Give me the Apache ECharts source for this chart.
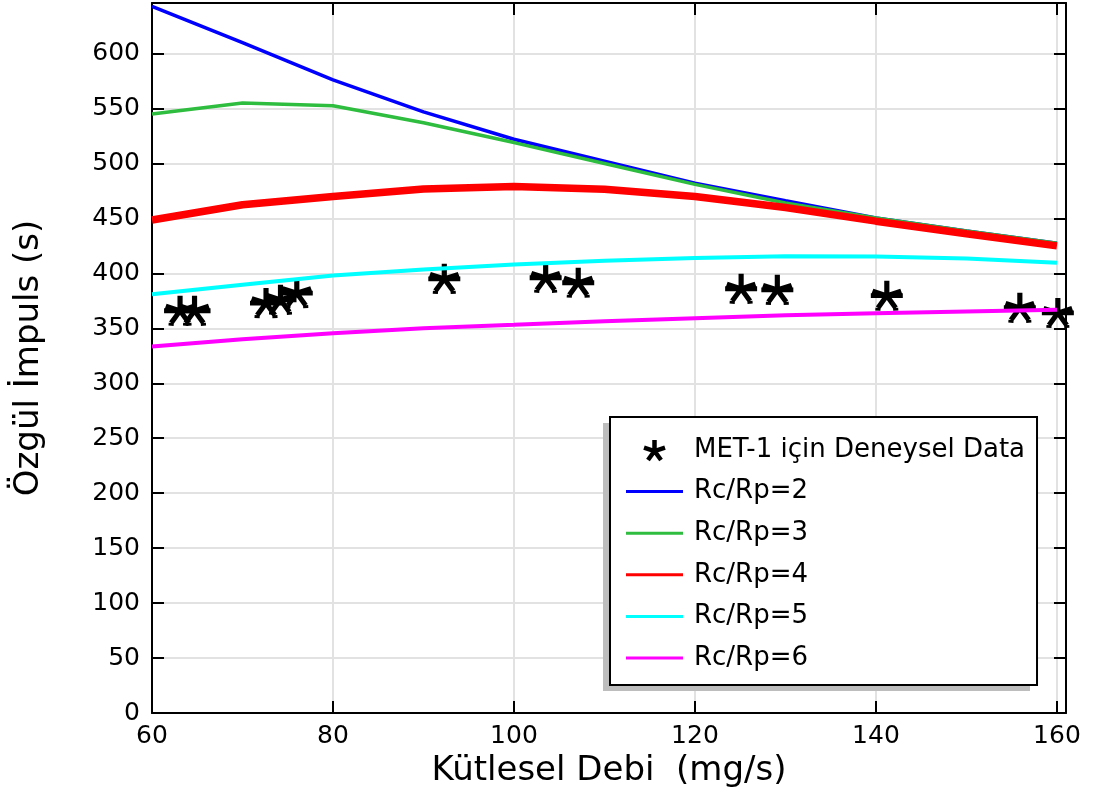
<!DOCTYPE html>
<html>
<head>
<meta charset="utf-8">
<script src="https://cdn.jsdelivr.net/npm/echarts@6/dist/echarts.min.js"></script>
<style>
  html, body { margin: 0; padding: 0; background: #fff; }
  #chart { width: 1093px; height: 793px; }
</style>
</head>
<body>
<div id="chart"></div>
<script>
// Mass flow rate (mg/s) at which the model curves were evaluated
const massFlow = [60, 70, 80, 90, 100, 110, 120, 130, 140, 150, 160];

// Specific impulse (s) for each chamber/plasma radius ratio
const rc2 = [643, 610, 576, 547, 522, 502, 482, 466, 450.5, 438.5, 427.5];
const rc3 = [545, 555, 552.5, 537, 519, 500, 481, 464, 450.5, 438.5, 427.5];
const rc4 = [448.5, 462.5, 470, 476.8, 479, 476.5, 470, 460, 447.5, 436, 425];
const rc5 = [381, 389.6, 398, 403.5, 408, 411.5, 414, 415.5, 415.3, 413.5, 409.6];
const rc6 = [333.4, 340, 345.6, 350, 353.2, 356.5, 359.2, 361.8, 363.8, 365.3, 366.8];

// MET-1 experimental measurements
const met1Flow = [63.1, 64.7, 72.6, 74.2, 76.0, 92.3, 103.5, 107.1, 125.1, 129.1, 141.2, 155.9, 160.1];
const met1Isp  = [366, 366, 373, 376, 382, 395, 396, 391.5, 386, 385, 379.7, 368.7, 364];

// Axis ticks
const xTicks = { min: 60, max: 161, step: 20 };
const yTicks = { min: 0, max: 646, step: 50 };

const seriesNames = ['Rc/Rp=2', 'Rc/Rp=3', 'Rc/Rp=4', 'Rc/Rp=5', 'Rc/Rp=6'];
const seriesValues = [rc2, rc3, rc4, rc5, rc6];
const seriesColors = ['#0000ff', '#2ebd3e', '#ff0000', '#00ffff', '#ff00ff'];
const seriesWidths = [3.5, 3.5, 7.5, 4, 4];
const dataName = 'MET-1 için Deneysel Data';

// asterisk marker with a horizontal bar through its centre
const markerPath = 'path://M0,15 L32,15 M16,15 L16,0 M16,15 L30.3,10.4 M16,15 L1.7,10.4 M16,15 L24.8,27.1 M16,15 L7.2,27.1 M7.2,27.1 L7,30 M24.8,27.1 L25,30';
// plain five-arm asterisk for the legend
const legendStar = 'path://M10,10 L10,0 M10,10 L19.5,6.9 M10,10 L0.5,6.9 M10,10 L15.9,18.1 M10,10 L4.1,18.1';
// short horizontal stroke for the line entries of the legend
const legendLine = 'path://M0,0 L57,0 L57,3 L0,3 Z';

const font = 'DejaVu Sans';

const chart = echarts.init(document.getElementById('chart'), null, { renderer: 'canvas' });

const onStep = (step) => (v) => (Math.abs(v / step - Math.round(v / step)) < 1e-6 ? String(v) : '');

const boxAxis = (extra) => Object.assign({
  type: 'value',
  axisLine: { show: true, onZero: false, lineStyle: { color: '#000', width: 2 } },
  axisTick: { show: true, inside: true, length: 12, lineStyle: { color: '#000', width: 2 } },
  splitLine: { show: false },
  axisLabel: { show: false }
}, extra);

const option = {
  backgroundColor: '#fff',
  animation: false,
  grid: { left: 152, right: 27, top: 3, bottom: 80, containLabel: false },
  // flat drop shadow offset down-left behind the legend box
  graphic: [{
    type: 'rect',
    left: 603, top: 423,
    shape: { width: 427, height: 268 },
    style: { fill: '#bdbdbd' },
    z: 3,
    silent: true
  }],
  xAxis: [
    boxAxis({
      position: 'bottom',
      min: xTicks.min, max: xTicks.max, interval: xTicks.step,
      name: 'Kütlesel Debi  (mg/s)',
      nameLocation: 'middle',
      nameGap: 38,
      nameTextStyle: { fontFamily: font, fontSize: 34, color: '#000' },
      splitLine: { show: true, lineStyle: { color: '#e2e2e2', width: 2 } },
      axisLabel: {
        show: true, margin: 11, showMaxLabel: false,
        fontFamily: font, fontSize: 25, color: '#000',
        formatter: onStep(xTicks.step)
      }
    }),
    boxAxis({ position: 'top', min: xTicks.min, max: xTicks.max, interval: xTicks.step })
  ],
  yAxis: [
    boxAxis({
      position: 'left',
      min: yTicks.min, max: yTicks.max, interval: yTicks.step,
      name: 'Özgül İmpuls (s)',
      nameLocation: 'middle',
      nameGap: 106,
      nameTextStyle: { fontFamily: font, fontSize: 34, color: '#000' },
      splitLine: { show: true, lineStyle: { color: '#e2e2e2', width: 2 } },
      axisLabel: {
        show: true, margin: 12, showMaxLabel: false,
        fontFamily: font, fontSize: 25, color: '#000',
        formatter: onStep(yTicks.step)
      }
    }),
    boxAxis({ position: 'right', min: yTicks.min, max: yTicks.max, interval: yTicks.step })
  ],
  legend: {
    orient: 'vertical',
    left: 610,
    top: 417,
    z: 5,
    padding: [20, 12, 14, 16],
    itemGap: 15.6,
    itemWidth: 57,
    itemHeight: 20,
    backgroundColor: '#fff',
    borderColor: '#000',
    borderWidth: 2,
    borderRadius: 0,
    textStyle: { fontFamily: font, fontSize: 26, lineHeight: 26, color: '#000', padding: [0, 0, 0, 6] },
    data: [
      { name: dataName, icon: legendStar, itemStyle: { color: '#000', borderColor: '#000', borderWidth: 4.5 } }
    ].concat(seriesNames.map((n, k) => ({
      name: n, icon: legendLine,
      itemStyle: { color: seriesColors[k], borderWidth: 0 }
    })))
  },
  series: [
    {
      name: dataName,
      type: 'scatter',
      data: met1Flow.map((x, i) => [x, met1Isp[i]]),
      symbol: markerPath,
      symbolSize: [32, 30],
      itemStyle: { color: '#000', borderColor: '#000', borderWidth: 5, opacity: 1 },
      emphasis: { disabled: true }
    }
  ].concat(seriesNames.map((n, k) => ({
    name: n,
    type: 'line',
    data: massFlow.map((x, i) => [x, seriesValues[k][i]]),
    showSymbol: false,
    symbol: 'none',
    color: seriesColors[k],
    lineStyle: { color: seriesColors[k], width: seriesWidths[k] },
    emphasis: { disabled: true }
  })))
};

chart.setOption(option);
</script>
</body>
</html>
